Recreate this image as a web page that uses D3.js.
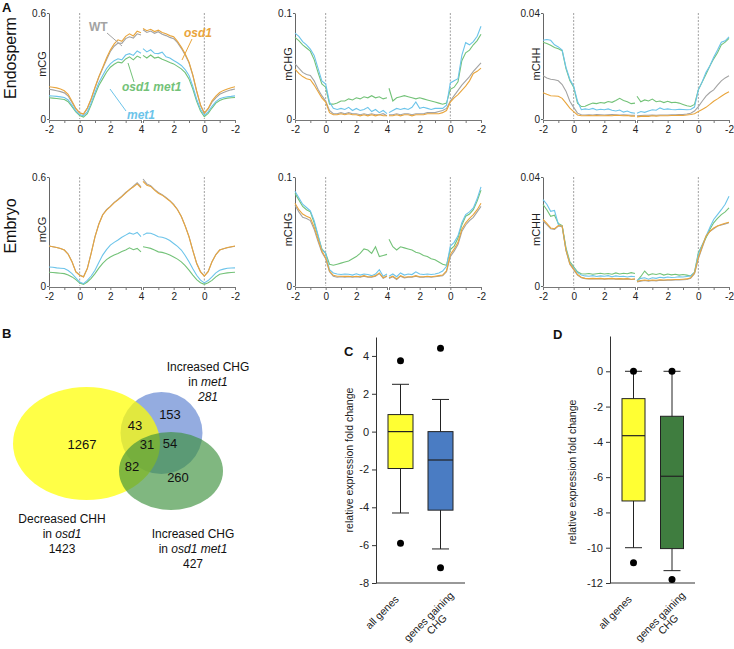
<!DOCTYPE html>
<html><head><meta charset="utf-8">
<script src="https://cdn.jsdelivr.net/npm/d3@7"></script>
<style>body{margin:0;background:#fff}svg{display:block;font-family:"Liberation Sans",Arial,sans-serif}</style>
</head><body><svg id="c" width="734" height="649"></svg>
<script>
// ---------- Panel A data ----------
const xsLeft = [-2,-1.75,-1.5,-1.25,-1,-0.75,-0.5,-0.25,0,0.25,0.5,0.75,1,1.25,1.5,1.75,2,2.25,2.5,2.75,3,3.25,3.5,3.75,4];
const xsRight = [4,3.75,3.5,3.25,3,2.75,2.5,2.25,2,1.75,1.5,1.25,1,0.75,0.5,0.25,0,-0.25,-0.5,-0.75,-1,-1.25,-1.5,-1.75,-2];
const xTickLabels = ["-2","0","2","4"];
const seriesNames = ["WT","osd1","osd1 met1","met1"];

// Endosperm mCG
const endoCG_wt_L   = [0.168,0.165,0.160,0.155,0.148,0.130,0.093,0.057,0.034,0.028,0.060,0.112,0.176,0.236,0.285,0.335,0.382,0.412,0.430,0.428,0.455,0.465,0.458,0.482,0.475];
const endoCG_osd1_L = [0.183,0.180,0.176,0.170,0.160,0.140,0.100,0.060,0.035,0.028,0.062,0.115,0.180,0.240,0.292,0.345,0.390,0.425,0.448,0.440,0.468,0.482,0.470,0.497,0.488];
const endoCG_om_L   = [0.120,0.118,0.116,0.113,0.110,0.098,0.070,0.040,0.020,0.011,0.030,0.080,0.137,0.190,0.227,0.265,0.293,0.310,0.322,0.318,0.340,0.352,0.335,0.356,0.345];
const endoCG_met1_L = [0.131,0.130,0.128,0.125,0.122,0.108,0.078,0.045,0.025,0.018,0.040,0.090,0.150,0.205,0.246,0.285,0.312,0.330,0.341,0.335,0.362,0.370,0.360,0.385,0.372];
const endoCG_wt_R   = [0.505,0.490,0.498,0.485,0.494,0.480,0.472,0.462,0.455,0.432,0.400,0.362,0.318,0.245,0.155,0.078,0.032,0.057,0.095,0.120,0.140,0.150,0.158,0.165,0.170];
const endoCG_osd1_R = [0.512,0.500,0.508,0.495,0.503,0.490,0.482,0.472,0.465,0.440,0.407,0.370,0.322,0.250,0.160,0.080,0.033,0.060,0.103,0.130,0.150,0.162,0.170,0.177,0.183];
const endoCG_om_R   = [0.360,0.345,0.362,0.345,0.350,0.338,0.330,0.320,0.312,0.298,0.284,0.262,0.227,0.170,0.100,0.045,0.013,0.032,0.062,0.090,0.105,0.113,0.118,0.120,0.122];
const endoCG_met1_R = [0.398,0.380,0.392,0.372,0.370,0.378,0.352,0.345,0.331,0.318,0.303,0.280,0.246,0.185,0.112,0.055,0.022,0.040,0.072,0.098,0.115,0.122,0.126,0.128,0.131];

// Endosperm mCHG
const endoCHG_wt_L   = [0.052,0.048,0.044,0.042,0.041,0.036,0.028,0.022,0.017,0.008,0.005,0.005,0.006,0.005,0.006,0.005,0.005,0.004,0.005,0.004,0.005,0.004,0.004,0.005,0.003];
const endoCHG_osd1_L = [0.047,0.043,0.040,0.038,0.037,0.032,0.026,0.020,0.016,0.006,0.004,0.004,0.005,0.004,0.005,0.004,0.004,0.003,0.004,0.003,0.004,0.003,0.004,0.003,0.003];
const endoCHG_om_L   = [0.077,0.074,0.070,0.067,0.064,0.056,0.044,0.033,0.030,0.014,0.014,0.015,0.017,0.017,0.019,0.018,0.020,0.019,0.021,0.020,0.022,0.020,0.021,0.019,0.020];
const endoCHG_met1_L = [0.081,0.078,0.073,0.070,0.066,0.060,0.048,0.036,0.033,0.016,0.010,0.009,0.010,0.009,0.011,0.008,0.010,0.008,0.009,0.011,0.007,0.009,0.006,0.008,0.005];
const endoCHG_wt_R   = [0.004,0.004,0.005,0.004,0.005,0.005,0.004,0.005,0.005,0.005,0.006,0.006,0.006,0.007,0.008,0.010,0.017,0.022,0.027,0.032,0.036,0.040,0.045,0.049,0.053];
const endoCHG_osd1_R = [0.003,0.003,0.004,0.003,0.004,0.004,0.003,0.004,0.004,0.004,0.005,0.005,0.005,0.005,0.006,0.008,0.016,0.020,0.023,0.027,0.031,0.036,0.043,0.045,0.048];
const endoCHG_om_R   = [0.029,0.017,0.020,0.021,0.022,0.021,0.020,0.019,0.020,0.019,0.018,0.017,0.016,0.015,0.014,0.015,0.028,0.030,0.035,0.055,0.0625,0.065,0.070,0.074,0.080];
const endoCHG_met1_R = [0.006,0.008,0.010,0.009,0.010,0.009,0.011,0.016,0.010,0.011,0.010,0.009,0.010,0.010,0.010,0.013,0.034,0.036,0.038,0.060,0.072,0.070,0.073,0.078,0.0875];

// Endosperm mCHH
const endoCHH_wt_L   = [0.0163,0.0155,0.0150,0.0148,0.0144,0.0130,0.0105,0.0067,0.0044,0.0022,0.0016,0.0015,0.0016,0.0015,0.0017,0.0016,0.0015,0.0016,0.0017,0.0016,0.0015,0.0016,0.0015,0.0014,0.0014];
const endoCHH_osd1_L = [0.0099,0.0093,0.0088,0.0087,0.0086,0.0078,0.0060,0.0041,0.0028,0.0015,0.0012,0.0012,0.0013,0.0012,0.0013,0.0012,0.0012,0.0013,0.0012,0.0014,0.0013,0.0012,0.0013,0.0011,0.0011];
const endoCHH_om_L   = [0.0290,0.0285,0.0278,0.0270,0.0265,0.0258,0.0190,0.0145,0.0120,0.0060,0.0047,0.0048,0.0055,0.0060,0.0058,0.0062,0.0060,0.0066,0.0063,0.0070,0.0078,0.0070,0.0065,0.0058,0.0060];
const endoCHH_met1_L = [0.0297,0.0300,0.0297,0.0280,0.0272,0.0260,0.0195,0.0150,0.0124,0.0067,0.0035,0.0038,0.0036,0.0040,0.0034,0.0037,0.0035,0.0038,0.0033,0.0030,0.0034,0.0026,0.0030,0.0024,0.0022];
const endoCHH_wt_R   = [0.0012,0.0013,0.0014,0.0014,0.0015,0.0014,0.0015,0.0015,0.0015,0.0016,0.0016,0.0017,0.0017,0.0019,0.0022,0.0030,0.0047,0.0067,0.0086,0.0100,0.0110,0.0128,0.0144,0.0155,0.0163];
const endoCHH_osd1_R = [0.0008,0.0010,0.0011,0.0010,0.0012,0.0011,0.0012,0.0012,0.0012,0.0013,0.0013,0.0014,0.0013,0.0015,0.0017,0.0020,0.0028,0.0036,0.0044,0.0055,0.0067,0.0076,0.0086,0.0095,0.0103];
const endoCHH_om_R   = [0.0086,0.0065,0.0072,0.0068,0.0075,0.0065,0.0068,0.0062,0.0067,0.0062,0.0063,0.0060,0.0055,0.0050,0.0047,0.0055,0.0110,0.0140,0.0169,0.0200,0.0227,0.0250,0.0280,0.0290,0.0304];
const endoCHH_met1_R = [0.0022,0.0028,0.0025,0.0030,0.0035,0.0033,0.0042,0.0036,0.0038,0.0036,0.0035,0.0037,0.0036,0.0035,0.0036,0.0045,0.0110,0.0140,0.0176,0.0200,0.0233,0.0260,0.0290,0.0295,0.0310];

// Embryo mCG
const embCG_wt_L   = [0.220,0.216,0.212,0.206,0.198,0.176,0.134,0.079,0.060,0.051,0.097,0.181,0.272,0.341,0.392,0.420,0.438,0.460,0.476,0.494,0.515,0.530,0.550,0.568,0.545];
const embCG_osd1_L = [0.220,0.216,0.212,0.206,0.198,0.175,0.133,0.078,0.059,0.050,0.096,0.180,0.271,0.340,0.391,0.418,0.437,0.458,0.474,0.492,0.511,0.532,0.545,0.562,0.540];
const embCG_om_L   = [0.076,0.074,0.072,0.070,0.068,0.060,0.050,0.035,0.017,0.009,0.022,0.042,0.068,0.098,0.124,0.145,0.160,0.170,0.179,0.190,0.198,0.210,0.200,0.207,0.188];
const embCG_met1_L = [0.105,0.103,0.100,0.098,0.096,0.085,0.068,0.045,0.022,0.013,0.031,0.055,0.087,0.130,0.170,0.200,0.225,0.240,0.253,0.268,0.280,0.292,0.285,0.295,0.272];
const embCG_wt_R   = [0.589,0.562,0.552,0.532,0.515,0.503,0.487,0.470,0.449,0.421,0.383,0.331,0.272,0.196,0.125,0.079,0.055,0.080,0.134,0.173,0.198,0.205,0.211,0.215,0.219];
const embCG_osd1_R = [0.576,0.555,0.548,0.528,0.511,0.500,0.484,0.468,0.447,0.420,0.382,0.330,0.271,0.195,0.124,0.078,0.054,0.079,0.133,0.172,0.198,0.205,0.212,0.216,0.220];
const embCG_om_R   = [0.216,0.212,0.207,0.198,0.188,0.185,0.179,0.170,0.160,0.148,0.133,0.112,0.087,0.060,0.035,0.018,0.009,0.018,0.031,0.050,0.065,0.069,0.072,0.074,0.076];
const embCG_met1_R = [0.280,0.292,0.290,0.282,0.271,0.268,0.262,0.250,0.234,0.218,0.198,0.168,0.133,0.095,0.059,0.032,0.017,0.030,0.050,0.072,0.087,0.093,0.098,0.099,0.100];

// Embryo mCHG
const embCHG_wt_L   = [0.074,0.068,0.063,0.062,0.060,0.052,0.041,0.031,0.025,0.013,0.009,0.008,0.0085,0.008,0.0085,0.008,0.0085,0.008,0.009,0.008,0.008,0.009,0.0115,0.007,0.009];
const embCHG_osd1_L = [0.076,0.070,0.066,0.064,0.0625,0.054,0.043,0.032,0.026,0.0137,0.0098,0.009,0.009,0.0088,0.009,0.0085,0.009,0.0085,0.0095,0.0085,0.0085,0.0095,0.012,0.0075,0.0095];
const embCHG_om_L   = [0.085,0.079,0.073,0.070,0.068,0.058,0.046,0.034,0.030,0.020,0.019,0.020,0.021,0.022,0.023,0.025,0.027,0.030,0.034,0.033,0.030,0.036,0.027,0.028,0.029];
const embCHG_met1_L = [0.087,0.081,0.075,0.072,0.069,0.060,0.047,0.0335,0.030,0.015,0.012,0.011,0.0105,0.011,0.0108,0.010,0.0112,0.010,0.011,0.0105,0.0095,0.011,0.015,0.009,0.011];
const embCHG_wt_R   = [0.007,0.0085,0.006,0.009,0.0075,0.008,0.008,0.009,0.008,0.008,0.0085,0.008,0.0085,0.009,0.0095,0.013,0.027,0.032,0.038,0.050,0.056,0.060,0.063,0.068,0.073];
const embCHG_osd1_R = [0.0075,0.009,0.0065,0.0095,0.008,0.0085,0.0085,0.0095,0.0085,0.0085,0.009,0.0085,0.009,0.0095,0.010,0.014,0.029,0.034,0.040,0.052,0.058,0.062,0.0655,0.070,0.076];
const embCHG_om_R   = [0.043,0.036,0.033,0.036,0.035,0.034,0.033,0.031,0.030,0.028,0.027,0.025,0.024,0.022,0.020,0.019,0.0335,0.0366,0.044,0.056,0.064,0.066,0.070,0.078,0.088];
const embCHG_met1_R = [0.009,0.011,0.0085,0.012,0.010,0.011,0.0105,0.013,0.011,0.0105,0.011,0.0105,0.011,0.012,0.0137,0.018,0.0366,0.040,0.046,0.058,0.0655,0.068,0.0716,0.080,0.091];

// Embryo mCHH
const embCHH_wt_L   = [0.0238,0.0225,0.0210,0.0208,0.0220,0.0218,0.0130,0.0080,0.0060,0.0040,0.0030,0.0027,0.0026,0.0027,0.0026,0.0027,0.0025,0.0026,0.0027,0.0025,0.0026,0.0025,0.0026,0.0024,0.0025];
const embCHH_osd1_L = [0.0244,0.0230,0.0213,0.0210,0.0222,0.0220,0.0132,0.0082,0.0062,0.0042,0.0032,0.0028,0.0027,0.0028,0.0027,0.0028,0.0026,0.0027,0.0028,0.0026,0.0027,0.0026,0.0027,0.0025,0.0026];
const embCHH_om_L   = [0.0299,0.0280,0.0256,0.0260,0.0229,0.0222,0.0140,0.0090,0.0070,0.0052,0.0045,0.0044,0.0046,0.0043,0.0045,0.0047,0.0044,0.0046,0.0043,0.0048,0.0044,0.0047,0.0045,0.0049,0.0046];
const embCHH_met1_L = [0.0317,0.0300,0.0274,0.0277,0.0226,0.0220,0.0134,0.0085,0.0067,0.0049,0.0040,0.0037,0.0036,0.0038,0.0035,0.0037,0.0036,0.0038,0.0034,0.0037,0.0035,0.0036,0.0033,0.0036,0.0034];
const embCHH_wt_R   = [0.0015,0.0018,0.0020,0.0018,0.0020,0.0019,0.0021,0.0020,0.0021,0.0021,0.0022,0.0022,0.0023,0.0024,0.0028,0.0045,0.0100,0.0140,0.0180,0.0200,0.0210,0.0220,0.0224,0.0228,0.0232];
const embCHH_osd1_R = [0.0017,0.0020,0.0022,0.0020,0.0022,0.0021,0.0023,0.0022,0.0023,0.0023,0.0024,0.0024,0.0025,0.0026,0.0030,0.0048,0.0104,0.0145,0.0183,0.0200,0.0213,0.0220,0.0226,0.0230,0.0234];
const embCHH_om_R   = [0.0018,0.0035,0.0055,0.0040,0.0045,0.0042,0.0046,0.0040,0.0044,0.0041,0.0043,0.0040,0.0042,0.0040,0.0037,0.0050,0.0122,0.0150,0.0177,0.0207,0.0232,0.0248,0.0262,0.0272,0.0287];
const embCHH_met1_R = [0.0020,0.0028,0.0030,0.0025,0.0030,0.0028,0.0032,0.0030,0.0033,0.0031,0.0032,0.0034,0.0033,0.0035,0.0037,0.0050,0.0116,0.0150,0.0183,0.0215,0.0244,0.0262,0.0280,0.0300,0.0329];

// ---------- Panel B data ----------
const vennSetLabels = [["Decreased CHH","in ","osd1","1423"],["Increased CHG","in ","met1","281"],["Increased CHG","in ","osd1 met1","427"]];
const vennRegionLabels = ["1267","43","153","31","54","82","260"];

// ---------- Panel C / D data ----------
const boxCategories = ["all genes","genes gaining CHG"];
const C_whiskerLow  = [-4.3,-6.2];
const C_q1          = [-1.95,-4.15];
const C_median      = [0,-1.5];
const C_q3          = [0.9,0];
const C_whiskerHigh = [2.5,1.7];
const C_outliers    = [[3.75,-5.9],[4.4,-7.2]];
const C_ticks       = [-8,-6,-4,-2,0,2,4];
const D_whiskerLow  = [-10,-11.3];
const D_q1          = [-7.35,-10.05];
const D_median      = [-3.65,-5.95];
const D_q3          = [-1.55,-2.55];
const D_whiskerHigh = [0,0];
const D_outliers    = [[0,-10.85],[0,-11.8]];
const D_ticks       = [-12,-10,-8,-6,-4,-2,0];

// ---------- drawing ----------
const svg = d3.select("#c");
const COL = {wt:"#a3a3a3", osd1:"#e9a53c", om:"#73c278", met1:"#6cc4ea"};

function profile(x0, yTop, yBot, ymax, topLabel, ylab, L, R) {
  const g = svg.append("g");
  const xl = d3.scaleLinear().domain([-2,4]).range([x0, x0+92]);
  const xr = d3.scaleLinear().domain([4,-2]).range([x0+94, x0+186]);
  const y = d3.scaleLinear().domain([0, ymax]).range([yBot, yTop]);
  // dashed zero lines
  [xl(0), xr(0)].forEach(px => g.append("line").attr("x1",px).attr("x2",px)
    .attr("y1",yTop).attr("y2",yBot).attr("stroke","#888").attr("stroke-width",0.8).attr("stroke-dasharray","2,1.5"));
  // x axes (the shared "4" is labelled once, on the left half)
  [xl, xr].forEach((sc, side) => {
    const fmt = d => (d % 2 === 0 && !(side === 1 && d === 4) ? xTickLabels[(d+2)/2] : "");
    const ax = g.append("g").attr("transform",`translate(0,${yBot+1})`)
      .call(d3.axisBottom(sc).tickValues([-2,-1,0,1,2,3,4]).tickFormat(fmt).tickSize(3).tickSizeOuter(0).tickPadding(3));
    ax.select(".domain").attr("stroke","#777").attr("stroke-width",1.2);
    ax.selectAll(".tick line").attr("stroke","#777");
    ax.selectAll("text").attr("font-size",10).attr("fill","#222").style("font-family","Liberation Sans, Arial, sans-serif");
  });
  // y axis
  const ay = g.append("g").attr("transform",`translate(${x0},0)`)
    .call(d3.axisLeft(y).tickValues([0,ymax]).tickFormat(d => d===0 ? "0" : topLabel).tickSize(2).tickSizeOuter(0).tickPadding(1));
  ay.select(".domain").attr("stroke","#666");
  ay.selectAll(".tick line").attr("stroke","#666");
  ay.selectAll("text").attr("font-size",10).attr("fill","#222").style("font-family","Liberation Sans, Arial, sans-serif");
  g.append("text").attr("transform",`translate(${x0-3},${(yTop+yBot)/2-2}) rotate(-90)`)
    .attr("text-anchor","middle").attr("font-size",11).attr("fill","#222").text(ylab);
  // lines
  const keys = ["wt","om","met1","osd1"];
  const lineL = d3.line().x((d,i)=>xl(xsLeft[i])).y(d=>y(d));
  const lineR = d3.line().x((d,i)=>xr(xsRight[i])).y(d=>y(d));
  keys.forEach(k => {
    g.append("path").attr("d", lineL(L[k])).attr("fill","none").attr("stroke",COL[k]).attr("stroke-width",1.1);
    g.append("path").attr("d", lineR(R[k])).attr("fill","none").attr("stroke",COL[k]).attr("stroke-width",1.1);
  });
  return {xl, xr, y};
}

const row1 = [13, 119], row2 = [177, 286];
const chartX = [49, 295, 543];
profile(chartX[0], row1[0], row1[1], 0.6, "0.6", "mCG",
  {wt:endoCG_wt_L, osd1:endoCG_osd1_L, om:endoCG_om_L, met1:endoCG_met1_L},
  {wt:endoCG_wt_R, osd1:endoCG_osd1_R, om:endoCG_om_R, met1:endoCG_met1_R});
profile(chartX[1], row1[0], row1[1], 0.1, "0.1", "mCHG",
  {wt:endoCHG_wt_L, osd1:endoCHG_osd1_L, om:endoCHG_om_L, met1:endoCHG_met1_L},
  {wt:endoCHG_wt_R, osd1:endoCHG_osd1_R, om:endoCHG_om_R, met1:endoCHG_met1_R});
profile(chartX[2], row1[0], row1[1], 0.04, "0.04", "mCHH",
  {wt:endoCHH_wt_L, osd1:endoCHH_osd1_L, om:endoCHH_om_L, met1:endoCHH_met1_L},
  {wt:endoCHH_wt_R, osd1:endoCHH_osd1_R, om:endoCHH_om_R, met1:endoCHH_met1_R});
profile(chartX[0], row2[0], row2[1], 0.6, "0.6", "mCG",
  {wt:embCG_wt_L, osd1:embCG_osd1_L, om:embCG_om_L, met1:embCG_met1_L},
  {wt:embCG_wt_R, osd1:embCG_osd1_R, om:embCG_om_R, met1:embCG_met1_R});
profile(chartX[1], row2[0], row2[1], 0.1, "0.1", "mCHG",
  {wt:embCHG_wt_L, osd1:embCHG_osd1_L, om:embCHG_om_L, met1:embCHG_met1_L},
  {wt:embCHG_wt_R, osd1:embCHG_osd1_R, om:embCHG_om_R, met1:embCHG_met1_R});
profile(chartX[2], row2[0], row2[1], 0.04, "0.04", "mCHH",
  {wt:embCHH_wt_L, osd1:embCHH_osd1_L, om:embCHH_om_L, met1:embCHH_met1_L},
  {wt:embCHH_wt_R, osd1:embCHH_osd1_R, om:embCHH_om_R, met1:embCHH_met1_R});

// series annotations in first chart
const ann = [
  {t:seriesNames[0], c:COL.wt,   x:89,  y:31, it:false, l:[107,33,122,46]},
  {t:seriesNames[1], c:COL.osd1, x:184, y:37, it:true,  l:[192,39,182,60]},
  {t:seriesNames[2], c:COL.om,   x:122, y:91, it:true,  l:[134,82,128,63]},
  {t:seriesNames[3], c:COL.met1, x:127, y:119,it:true,  l:[126,111,110,89]}
];
ann.forEach(a => {
  svg.append("line").attr("x1",a.l[0]).attr("y1",a.l[1]).attr("x2",a.l[2]).attr("y2",a.l[3]).attr("stroke",a.c).attr("stroke-width",1);
  svg.append("text").attr("x",a.x).attr("y",a.y).attr("font-size",12).attr("font-weight","bold")
    .attr("font-style",a.it?"italic":"normal").attr("fill",a.c).text(a.t);
});

// row labels and panel letters
svg.append("text").attr("transform","translate(16,58) rotate(-90)").attr("text-anchor","middle").attr("font-size",16).attr("fill","#111").text("Endosperm");
svg.append("text").attr("transform","translate(16,226) rotate(-90)").attr("text-anchor","middle").attr("font-size",16).attr("fill","#111").text("Embryo");
[["A",2,12],["B",2,338],["C",344,356],["D",553,339]].forEach(([t,x,y]) =>
  svg.append("text").attr("x",x).attr("y",y).attr("font-size",13).attr("font-weight","bold").attr("fill","#111").text(t));

// ---------- Panel B: Venn ----------
const vg = svg.append("g");
vg.append("circle").attr("cx",161.5).attr("cy",433).attr("r",41).attr("fill","#5b80cf").attr("fill-opacity",0.65);
vg.append("ellipse").attr("cx",86.5).attr("cy",443.5).attr("rx",73.5).attr("ry",56.5).attr("fill","#ffff00").attr("fill-opacity",0.72);
vg.append("ellipse").attr("cx",171).attr("cy",471).attr("rx",52).attr("ry",39).attr("fill","#3c913c").attr("fill-opacity",0.65);
const regionPos = [[82,449],[135,430],[170,419],[147,449],[170,448],[132,471],[178,482]];
vennRegionLabels.forEach((t,i) => vg.append("text").attr("x",regionPos[i][0]).attr("y",regionPos[i][1])
  .attr("text-anchor","middle").attr("font-size",13).attr("fill","#111").text(t));
const setPos = [[62,523],[208,371],[193,538]];
vennSetLabels.forEach((s,i) => {
  const [x,y] = setPos[i];
  vg.append("text").attr("x",x).attr("y",y).attr("text-anchor","middle").attr("font-size",12).attr("fill","#111").text(s[0]);
  const t2 = vg.append("text").attr("x",x).attr("y",y+15).attr("text-anchor","middle").attr("font-size",12).attr("fill","#111");
  t2.append("tspan").text(s[1]);
  t2.append("tspan").attr("font-style","italic").text(s[2]);
  vg.append("text").attr("x",x).attr("y",y+30).attr("text-anchor","middle").attr("font-size",12).attr("fill","#111")
    .attr("font-style", i===1 ? "italic" : "normal").text(s[3]);
});

// ---------- Panels C & D: box plots ----------
function boxplot(cfg) {
  const g = svg.append("g");
  const y = d3.scaleLinear().domain(cfg.domain).range([583, cfg.topPx]);
  const x = d3.scalePoint().domain(boxCategories).range(cfg.centers);
  const ay = g.append("g").attr("transform",`translate(${cfg.axisX},0)`)
    .call(d3.axisLeft(y).tickValues(cfg.ticks).tickFormat(d=>String(d)).tickSize(4).tickSizeOuter(0).tickPadding(3));
  ay.select(".domain").attr("stroke","#333");
  ay.selectAll(".tick line").attr("stroke","#333");
  ay.selectAll("text").attr("font-size",11).attr("fill","#222").style("font-family","Liberation Sans, Arial, sans-serif");
  g.append("line").attr("x1",cfg.axisX).attr("x2",cfg.axisEnd).attr("y1",y(cfg.domain[0])).attr("y2",y(cfg.domain[0])).attr("stroke","#333");
  g.append("text").attr("transform",`translate(${cfg.labX},${cfg.labY}) rotate(-90)`).attr("text-anchor","middle")
    .attr("font-size",10.5).attr("fill","#222").text("relative expression fold change");
  const bw = cfg.bw, cw = 17;
  boxCategories.forEach((c,i) => {
    const cx = x(c);
    g.append("line").attr("x1",cx).attr("x2",cx).attr("y1",y(cfg.wl[i])).attr("y2",y(cfg.wh[i])).attr("stroke","#222");
    [cfg.wl[i], cfg.wh[i]].forEach(v => g.append("line").attr("x1",cx-cw/2).attr("x2",cx+cw/2).attr("y1",y(v)).attr("y2",y(v)).attr("stroke","#222"));
    g.append("rect").attr("x",cx-bw/2).attr("width",bw).attr("y",y(cfg.q3[i])).attr("height",y(cfg.q1[i])-y(cfg.q3[i]))
      .attr("fill",cfg.colors[i]).attr("stroke","#222");
    g.append("line").attr("x1",cx-bw/2).attr("x2",cx+bw/2).attr("y1",y(cfg.med[i])).attr("y2",y(cfg.med[i])).attr("stroke","#222").attr("stroke-width",1.2);
    cfg.out[i].forEach(v => g.append("circle").attr("cx",cx).attr("cy",y(v)).attr("r",3.5).attr("fill","#000"));
  });
  // category labels
  g.append("text").attr("transform",`translate(${x(boxCategories[0])-1},600) rotate(-45)`)
    .attr("text-anchor","end").attr("font-size",10.5).attr("fill","#222").text(boxCategories[0]);
  const parts = boxCategories[1].split(" ");
  const gg = g.append("g").attr("transform",`translate(${x(boxCategories[1])+14},596) rotate(-45)`);
  const a = gg.append("text").attr("text-anchor","end").attr("font-size",10.5).attr("fill","#222").text(parts[0]+" "+parts[1]);
  const w = a.node().getComputedTextLength();
  gg.append("text").attr("x",-w/2).attr("y",11).attr("text-anchor","middle").attr("font-size",10.5).attr("fill","#222").text(parts[2]);
}
boxplot({domain:[-8,5], topPx:337, ticks:C_ticks, centers:[400.5,440.5], axisX:376, axisEnd:465, labX:353, labY:460,
  bw:25, wl:C_whiskerLow, q1:C_q1, med:C_median, q3:C_q3, wh:C_whiskerHigh, out:C_outliers, colors:["#ffff33","#4a7cc3"]});
boxplot({domain:[-12,2], topPx:336, ticks:D_ticks, centers:[633.5,672], axisX:610, axisEnd:695, labX:576, labY:472,
  bw:23, wl:D_whiskerLow, q1:D_q1, med:D_median, q3:D_q3, wh:D_whiskerHigh, out:D_outliers, colors:["#ffff33","#3f7d3f"]});
</script></body></html>
